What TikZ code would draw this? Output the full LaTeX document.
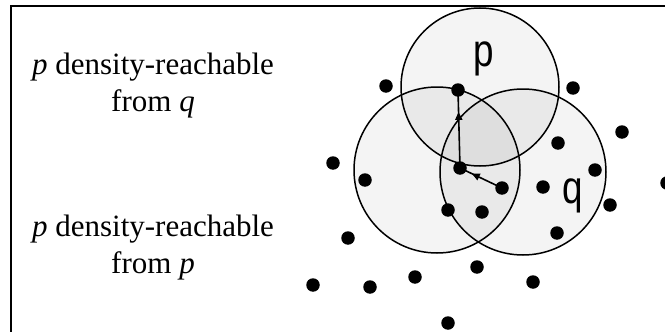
\documentclass[tikz,border=0pt]{standalone}
\usepackage{fontspec}
\setmainfont{Liberation Serif}
\newfontfamily\lblfont{Liberation Sans}
\usetikzlibrary{arrows.meta,decorations.markings}
\tikzset{
  ring/.style={fill=black, fill opacity=0.045},
  rim/.style={draw=black, line width=1.5pt},
  dot/.style={circle, fill=black, minimum size=13.5pt, inner sep=0pt},
  chain/.style={line width=1.6pt, postaction={decorate},
    decoration={markings, mark=at position 0.72 with {\arrow{Triangle[length=8pt,width=7pt]}}}},
  caption/.style={align=center, font=\fontsize{31}{37}\selectfont},
  lbl/.style={font=\lblfont\fontsize{46}{46}\selectfont, inner sep=0pt, anchor=base, xscale=0.8}
}
\begin{document}
\begin{tikzpicture}[x=1pt,y=-1pt]
\useasboundingbox (0,0) rectangle (665,332);
\fill[white] (0,0) rectangle (665,332);
% frame
\draw[line width=2.4pt] (11,332) -- (11,6) -- (665,6);
% circles
\path[ring] (480,87) circle (79);
\path[ring] (437,170) circle (83);
\path[ring] (523,172) circle (83);
\draw[rim] (480,87) circle (79);
\draw[rim] (437,170) circle (83);
\draw[rim] (523,172) circle (83);
% labels
\node[lbl] (plbl) at (484,66) {p};
\node[lbl] (qlbl) at (573,203) {q};
% dots
\node[dot] (d1) at (386,86) {};
\node[dot] (d2) at (573,88) {};
\node[dot] (d3) at (622,132) {};
\node[dot] (d4) at (333,163) {};
\node[dot] (d5) at (365,180) {};
\node[dot] (d6) at (558,143) {};
\node[dot] (d7) at (595,170) {};
\node[dot] (d8) at (667,183) {};
\node[dot] (d9) at (543,187) {};
\node[dot] (d10) at (502,188) {};
\node[dot] (d11) at (610,205) {};
\node[dot] (d12) at (448,210) {};
\node[dot] (d13) at (482,212) {};
\node[dot] (d14) at (557,233) {};
\node[dot] (d15) at (348,238) {};
\node[dot] (d16) at (477,267) {};
\node[dot] (d17) at (313,285) {};
\node[dot] (d18) at (370,287) {};
\node[dot] (d19) at (415,277) {};
\node[dot] (d20) at (533,282) {};
\node[dot] (d21) at (448,323) {};
\node[dot] (pp) at (458,90) {};
\node[dot] (oo) at (460,168) {};
% chain
\draw[chain] (d10.center) -- (oo.center);
\draw[chain] (oo.center) -- (pp.center);
% captions
\node[caption] (t1) at (153,86) {\textit{p} density-reachable\\from \textit{q}};
\node[caption] (t2) at (153,248) {\textit{p} density-reachable\\from \textit{p}};
\end{tikzpicture}
\end{document}
